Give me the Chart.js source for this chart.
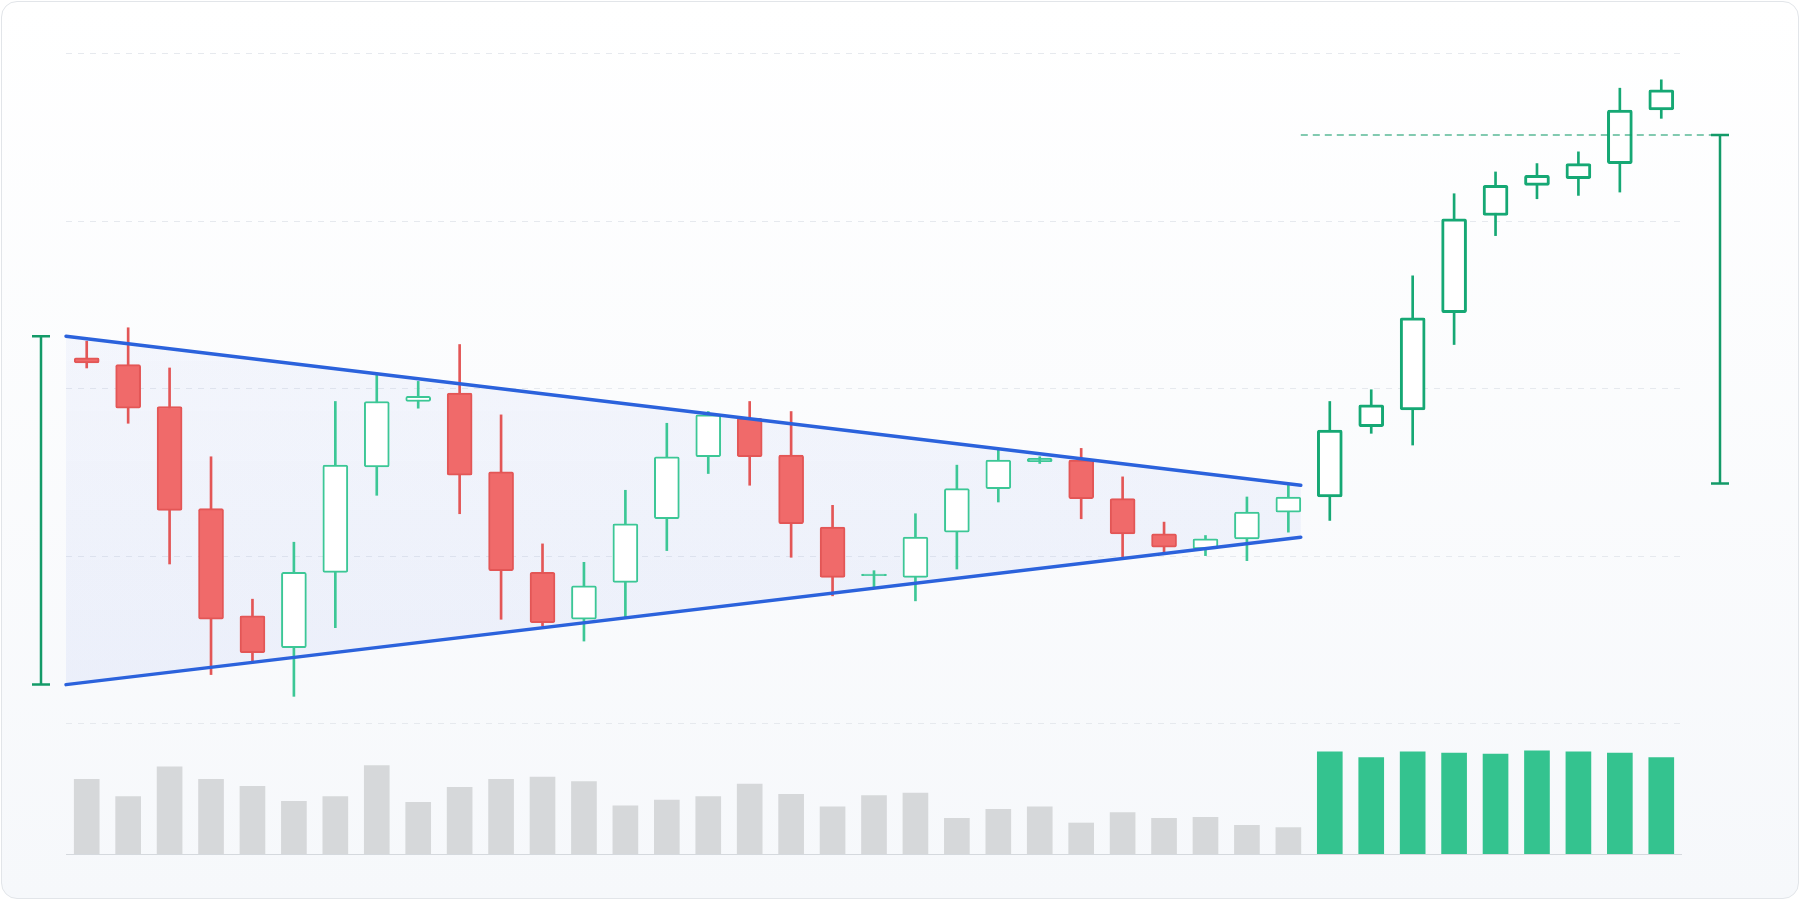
<!DOCTYPE html>
<html>
<head>
<meta charset="utf-8">
<script src="https://cdn.jsdelivr.net/npm/chart.js@4"></script>
<style>
  html, body { margin: 0; padding: 0; background: #fff; }
  .card {
    position: absolute; left: 1px; top: 1px; width: 1796px; height: 896px;
    border: 1px solid #e2e5e9; border-radius: 16px;
    background: linear-gradient(#ffffff, #f6f8fb);
  }
  canvas { position: absolute; left: 0; top: 0; }
</style>
</head>
<body>
<div class="card"></div>
<canvas id="chart" width="1800" height="900"></canvas>
<script>
// candle values
const opens  = [121.8,121.4,118.9,112.8,106.4,104.5,109.0,115.3,119.2,119.7,115.0,109.0,106.2,108.4,112.2,115.9,118.2,116.0,111.7,108.8,108.7,111.4,114.0,115.6,115.7,113.4,111.3,110.4,111.0,112.6,113.5,117.7,118.7,124.5,130.3,132.1,132.5,133.4,136.6];
const closes = [121.5,118.8,112.7,106.2,104.2,109.0,115.4,119.2,119.5,114.8,109.1,106.0,108.2,111.9,115.9,118.4,115.9,111.9,108.7,108.9,111.1,114.0,115.7,115.8,113.4,111.3,110.5,111.0,112.6,113.5,117.5,119.0,124.2,130.1,132.1,132.7,133.4,136.6,137.8];
const highs  = [122.8,123.6,121.2,115.9,107.4,110.8,119.2,120.8,120.4,122.6,118.4,110.7,109.6,113.9,117.9,118.6,119.2,118.6,113.0,109.1,112.5,115.4,116.4,115.9,116.4,114.7,112.0,111.2,113.5,114.2,119.2,119.9,126.7,131.6,132.9,133.4,134.1,137.9,138.4];
const lows   = [121.2,117.9,109.5,102.9,103.6,101.6,105.7,113.6,118.8,112.5,106.2,105.8,104.9,106.3,110.3,114.9,114.2,109.9,107.6,108.1,107.3,109.2,113.2,115.5,112.2,109.8,110.2,110.0,109.7,111.4,112.1,117.3,116.6,122.6,129.1,131.3,131.5,131.7,136.1];
const volumes = [65,50,76,65,59,46,50,77,45,58,65,67,63,42,47,50,61,52,41,51,53,31,39,41,27,36,31,32,25,23,89,84,89,88,87,90,89,88,84];
const breakoutStart = 30;

// pattern lines (x in candle index units)
const upperLine = [{ x: -0.5, y: 123.1 }, { x: 29.3, y: 114.2 }];
const lowerLine = [{ x: -0.5, y: 102.3 }, { x: 29.3, y: 111.1 }];
const targetPrice = 135.1;
const gridPrices = [100, 110, 120, 130, 140];

const labels = opens.map((_, i) => String(i + 1));
const isUp = opens.map((o, i) => closes[i] >= o);
const isDoji = opens.map((o, i) => Math.abs(closes[i] - o) < 0.25);

const RED = '#f06a6a', RED_EDGE = '#e35656';
const GREEN = '#3cc796', GREEN_DARK = '#16a874';

const bodyBorder = isUp.map((u, i) => u ? (i >= breakoutStart ? GREEN_DARK : GREEN) : RED_EDGE);
const bodyFill = isUp.map((u, i) => u ? (isDoji[i] ? GREEN : '#ffffff') : RED);
const wickColor = isUp.map((u, i) => u ? (i >= breakoutStart ? GREEN_DARK : GREEN) : RED_EDGE);

const overlay = {
    id: 'overlay',
    beforeDatasetsDraw(chart) {
        const { ctx, chartArea } = chart;
        const x = chart.scales.x, y = chart.scales.y, v = chart.scales.v;
        ctx.save();
        // grid
        ctx.strokeStyle = '#e6e9ee';
        ctx.lineWidth = 1;
        ctx.setLineDash([6, 6]);
        gridPrices.forEach(p => {
            const py = Math.round(y.getPixelForValue(p)) + 0.5;
            ctx.beginPath(); ctx.moveTo(chartArea.left, py); ctx.lineTo(chartArea.right, py); ctx.stroke();
        });
        ctx.setLineDash([]);
        ctx.strokeStyle = '#d5d9de';
        const by = Math.round(v.getPixelForValue(0)) + 0.5;
        ctx.beginPath(); ctx.moveTo(chartArea.left, by); ctx.lineTo(chartArea.right, by); ctx.stroke();

        // triangle fill
        const px = pt => [x.getPixelForValue(pt.x), y.getPixelForValue(pt.y)];
        const u0 = px(upperLine[0]), u1 = px(upperLine[1]), l0 = px(lowerLine[0]), l1 = px(lowerLine[1]);
        const g = ctx.createLinearGradient(0, u0[1], 0, l0[1]);
        g.addColorStop(0, 'rgba(90,120,230,0.05)');
        g.addColorStop(1, 'rgba(90,120,230,0.08)');
        ctx.fillStyle = g;
        ctx.beginPath();
        ctx.moveTo(u0[0], u0[1]); ctx.lineTo(u1[0], u1[1]); ctx.lineTo(l1[0], l1[1]); ctx.lineTo(l0[0], l0[1]);
        ctx.closePath(); ctx.fill();
        ctx.restore();
    },
    afterDatasetsDraw(chart) {
        const { ctx, chartArea } = chart;
        const x = chart.scales.x, y = chart.scales.y;
        const px = pt => [x.getPixelForValue(pt.x), y.getPixelForValue(pt.y)];
        const u0 = px(upperLine[0]), u1 = px(upperLine[1]), l0 = px(lowerLine[0]), l1 = px(lowerLine[1]);
        ctx.save();
        ctx.strokeStyle = '#2b62dc';
        ctx.lineWidth = 3.5;
        ctx.lineCap = 'round';
        [[u0, u1], [l0, l1]].forEach(([a, b]) => {
            ctx.beginPath(); ctx.moveTo(a[0], a[1]); ctx.lineTo(b[0], b[1]); ctx.stroke();
        });

        // height brackets
        const h = l0[1] - u0[1];
        const ty = y.getPixelForValue(targetPrice);
        const bracket = (bx, top, bottom) => {
            ctx.beginPath();
            ctx.moveTo(bx, top); ctx.lineTo(bx, bottom);
            ctx.moveTo(bx - 9, top); ctx.lineTo(bx + 9, top);
            ctx.moveTo(bx - 9, bottom); ctx.lineTo(bx + 9, bottom);
            ctx.stroke();
        };
        ctx.strokeStyle = '#139a68';
        ctx.lineWidth = 2.5;
        ctx.lineCap = 'butt';
        bracket(chartArea.left - 25, u0[1], l0[1]);
        const rx = chartArea.right + 38;
        bracket(rx, ty, ty + h);

        // target line
        ctx.strokeStyle = 'rgba(19,154,104,0.7)';
        ctx.lineWidth = 1.5;
        ctx.setLineDash([7, 5]);
        ctx.beginPath(); ctx.moveTo(u1[0], ty); ctx.lineTo(rx, ty); ctx.stroke();
        ctx.restore();
    }
};

new Chart(document.getElementById('chart').getContext('2d'), {
    type: 'bar',
    data: {
        labels: labels,
        datasets: [
            {
                label: 'wick',
                data: lows.map((l, i) => [l, highs[i]]),
                backgroundColor: wickColor,
                barThickness: 2,
                grouped: false,
                yAxisID: 'y',
                order: 3
            },
            {
                label: 'body',
                data: opens.map((o, i) => [o, closes[i]]),
                backgroundColor: bodyFill,
                borderColor: bodyBorder,
                borderWidth: isUp.map((u, i) => i >= breakoutStart ? 3 : 2),
                borderRadius: 2,
                borderSkipped: false,
                barThickness: 25,
                grouped: false,
                yAxisID: 'y',
                order: 2
            },
            {
                label: 'volume',
                data: volumes,
                backgroundColor: volumes.map((_, i) => i >= breakoutStart ? '#34c38f' : '#d6d8da'),
                barThickness: 25,
                grouped: false,
                yAxisID: 'v',
                order: 1
            }
        ]
    },
    options: {
        responsive: false,
        animation: false,
        layout: { padding: { left: 66, right: 118, top: 53, bottom: 46 } },
        plugins: { legend: { display: false }, tooltip: { enabled: false } },
        scales: {
            x: { display: false, offset: true },
            y: { display: false, min: 92.19, max: 140 },
            v: { display: false, min: 0, max: 698 }
        }
    },
    plugins: [overlay]
});
</script>
</body>
</html>
